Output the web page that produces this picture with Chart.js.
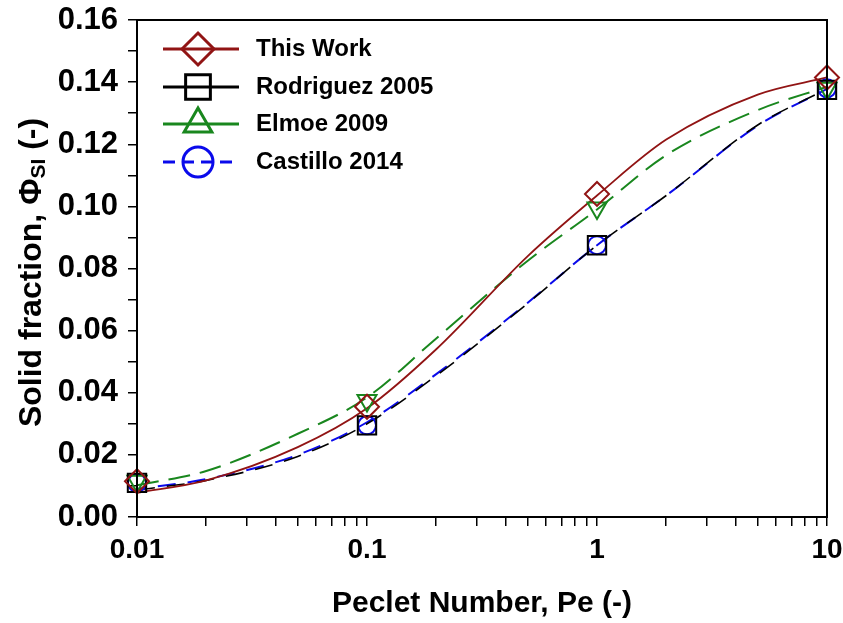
<!DOCTYPE html>
<html>
<head>
<meta charset="utf-8">
<title>Solid fraction vs Peclet number</title>
<script src="https://cdn.jsdelivr.net/npm/chart.js"></script>
<style>
  body { margin: 0; background: #fff; }
  canvas { display: block; }
</style>
</head>
<body>
<canvas id="chart" width="843" height="623"></canvas>
<script>
// Peclet numbers of the computed points
const peclet = [0.01, 0.1, 1, 10];

// solid fraction at each Pe
const thisWork  = [0.0115, 0.0355, 0.1040, 0.1415];
const rodriguez = [0.0110, 0.0295, 0.0875, 0.1375];
const elmoe     = [0.0115, 0.0375, 0.0995, 0.1380];
const castillo  = [0.0110, 0.0295, 0.0875, 0.1380];

// fitted curves, sampled along Pe
const curvePe      = [0.01, 0.02, 0.05, 0.1, 0.2, 0.5, 1, 2, 5, 10];
const thisWorkFit  = [0.0078, 0.0118, 0.0225, 0.0350, 0.0540, 0.0840, 0.1035, 0.1215, 0.1360, 0.1415];
const elmoeFit     = [0.0102, 0.0148, 0.0268, 0.0385, 0.0575, 0.0825, 0.0990, 0.1165, 0.1310, 0.1385];
const castilloFit  = [0.0090, 0.0122, 0.0200, 0.0305, 0.0460, 0.0690, 0.0875, 0.1035, 0.1260, 0.1378];
const rodriguezFit = [0.0087, 0.0118, 0.0195, 0.0300, 0.0455, 0.0688, 0.0875, 0.1035, 0.1262, 0.1378];

const seriesNames = ['This Work', 'Rodriguez 2005', 'Elmoe 2009', 'Castillo 2014'];
const xMajorTicks = [0.01, 0.1, 1, 10];
const yMax = 0.16;

const RED = 'rgb(145,20,20)';
const BLACK = '#000';
const GREEN = 'rgb(25,135,30)';
const BLUE = 'rgb(10,10,235)';

const FONT = '"Liberation Sans", Arial, sans-serif';

function pts(xs, ys) {
  return xs.map((x, i) => ({ x: x, y: ys[i] }));
}

function markers(label, ys, color, style, radius, rotation) {
  return {
    label: label,
    data: pts(peclet, ys),
    showLine: false,
    pointStyle: style,
    pointRadius: radius,
    pointRotation: rotation || 0,
    pointBorderColor: color,
    pointBackgroundColor: 'rgba(0,0,0,0)',
    pointBorderWidth: 2,
    clip: false
  };
}

function curve(ys, color, width, dash, dashOffset) {
  return {
    data: pts(curvePe, ys),
    borderColor: color,
    borderWidth: width,
    borderDash: dash,
    borderDashOffset: dashOffset || 0,
    pointRadius: 0,
    cubicInterpolationMode: 'monotone',
    clip: false
  };
}

// legend drawn as line sample + marker + bold label
const legendStyle = [
  { color: RED,   style: 'rectRot',  radius: 16,   rotation: 0, dash: [] },
  { color: BLACK, style: 'rect',     radius: 17.5, rotation: 0, dash: [] },
  { color: GREEN, style: 'triangle', radius: 16,   rotation: 0, dash: [] },
  { color: BLUE,  style: 'circle',   radius: 15,   rotation: 0, dash: [12, 7] }
];

const decorations = {
  id: 'decorations',
  afterDraw(chart) {
    const ctx = chart.ctx;
    const a = chart.chartArea;
    ctx.save();

    // frame round the plot
    ctx.strokeStyle = '#000';
    ctx.lineWidth = 2;
    ctx.strokeRect(a.left, a.top, a.right - a.left, a.bottom - a.top);

    // legend
    const rowY = [49, 87, 124, 162];
    seriesNames.forEach((name, i) => {
      const s = legendStyle[i];
      const y = rowY[i];
      ctx.strokeStyle = s.color;
      ctx.lineWidth = 3;
      ctx.setLineDash(s.dash);
      ctx.beginPath();
      ctx.moveTo(163, y);
      ctx.lineTo(239, y);
      ctx.stroke();
      ctx.setLineDash([]);
      ctx.fillStyle = 'rgba(0,0,0,0)';
      ctx.lineWidth = 3;
      Chart.helpers.drawPoint(ctx, {
        pointStyle: s.style, radius: s.radius, rotation: s.rotation, borderWidth: 3
      }, 198, y);
      ctx.fillStyle = '#000';
      ctx.font = 'bold 24px ' + FONT;
      ctx.textAlign = 'left';
      ctx.textBaseline = 'middle';
      ctx.fillText(name, 256, y);
    });

    // y axis title with subscript
    const cy = (a.top + a.bottom) / 2 + 4;
    ctx.translate(32, cy);
    ctx.rotate(-Math.PI / 2);
    ctx.fillStyle = '#000';
    ctx.textBaseline = 'middle';
    const big = 'bold 32px ' + FONT;
    const small = 'bold 21px ' + FONT;
    const parts = [
      { t: 'Solid fraction, \u03A6', f: big, dy: 0 },
      { t: 'SI', f: small, dy: 7 },
      { t: ' (-)', f: big, dy: 0 }
    ];
    let total = 0;
    parts.forEach(p => { ctx.font = p.f; p.w = ctx.measureText(p.t).width; total += p.w; });
    let x = -total / 2;
    ctx.textAlign = 'left';
    parts.forEach(p => {
      ctx.font = p.f;
      ctx.fillText(p.t, x, p.dy);
      x += p.w;
    });
    ctx.restore();
  }
};

new Chart(document.getElementById('chart'), {
  type: 'line',
  data: {
    datasets: [
      markers(seriesNames[0], thisWork, RED, 'rectRot', 12),
      markers(seriesNames[1], rodriguez, BLACK, 'rect', 13),
      markers(seriesNames[2], elmoe, GREEN, 'triangle', 11, 180),
      markers(seriesNames[3], castillo, BLUE, 'circle', 9),
      curve(thisWorkFit, RED, 1.8, []),
      curve(elmoeFit, GREEN, 2, [22, 10]),
      curve(rodriguezFit, BLACK, 1.6, [18, 12]),
      curve(castilloFit, BLUE, 2, [18, 12], 9)
    ]
  },
  options: {
    responsive: false,
    animation: false,
    layout: { padding: { top: 20, right: 16, left: 0, bottom: 0 } },
    plugins: { legend: { display: false }, tooltip: { enabled: false } },
    scales: {
      x: {
        type: 'logarithmic',
        min: 0.01,
        max: 10,
        afterFit(scale) {
          scale.height = 106;
          scale.paddingLeft = 0;
          scale.paddingRight = 0;
        },
        afterBuildTicks(scale) {
          const t = [];
          xMajorTicks.forEach((m, i) => {
            t.push({ value: m, major: true });
            if (i < xMajorTicks.length - 1) {
              for (let k = 2; k <= 9; k++) t.push({ value: m * k });
            }
          });
          scale.ticks = t;
        },
        border: { display: true, color: '#000', width: 2 },
        grid: { drawOnChartArea: false, drawTicks: true, tickLength: 9, color: '#000', lineWidth: 1.5 },
        ticks: {
          autoSkip: false,
          maxRotation: 0,
          padding: 7,
          color: '#000',
          font: { family: FONT, size: 28, weight: 'bold' },
          callback(v) {
            return xMajorTicks.some(m => Math.abs(m - v) < 1e-9) ? String(v) : '';
          }
        },
        title: {
          display: true,
          text: 'Peclet Number, Pe (-)',
          color: '#000',
          font: { family: FONT, size: 30, weight: 'bold' },
          padding: { top: 4, bottom: 1 }
        }
      },
      y: {
        min: 0,
        max: yMax,
        afterFit(scale) {
          scale.width = 137;
          scale.paddingTop = 0;
          scale.paddingBottom = 0;
        },
        border: { display: true, color: '#000', width: 2 },
        grid: { drawOnChartArea: false, drawTicks: true, tickLength: 9, color: '#000', lineWidth: 1.5 },
        ticks: {
          stepSize: 0.01,
          autoSkip: false,
          padding: 10,
          color: '#000',
          font: { family: FONT, size: 31, weight: 'bold' },
          callback(v, i) {
            return i % 2 === 0 ? v.toFixed(2) : '';
          }
        }
      }
    }
  },
  plugins: [decorations]
});
</script>
</body>
</html>
